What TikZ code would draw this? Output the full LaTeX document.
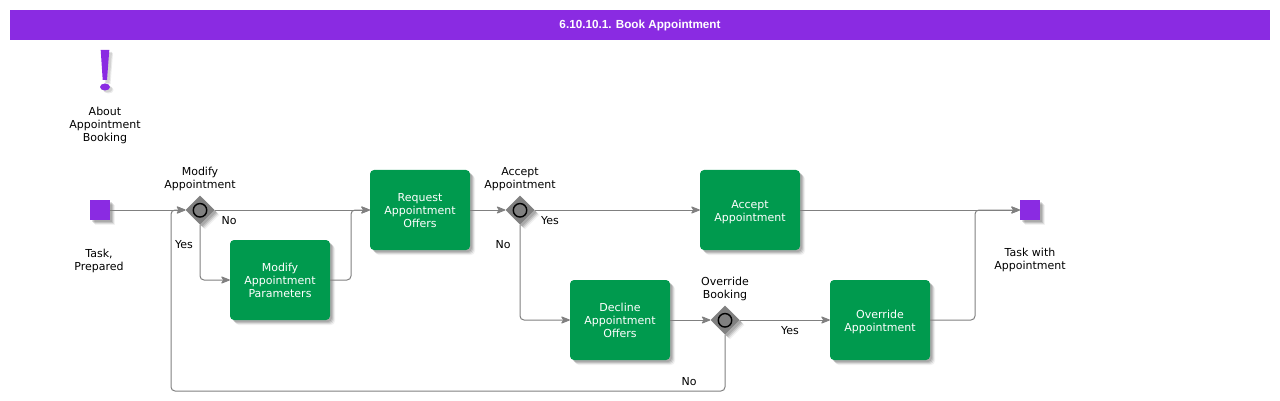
\documentclass[tikz,border=0pt]{standalone}
\usepackage{fontspec}
\setmainfont{DejaVu Sans}
\newfontfamily\titlefont{Liberation Sans}
\usetikzlibrary{shapes.geometric,arrows.meta,shadows}
\definecolor{bpurple}{HTML}{8A2BE2}
\definecolor{bgreen}{HTML}{009A4E}
\definecolor{bgray}{HTML}{808080}
\newcommand\boxtxt[1]{\raisebox{-4.75pt}[0pt][0pt]{\begin{tabular}{@{}c@{}}#1\end{tabular}}}
\tikzset{
  softshadow/.style={general shadow={shadow xshift=5pt,shadow yshift=-5pt,fill=black,opacity=.05},
                     general shadow={shadow xshift=4pt,shadow yshift=-4pt,fill=black,opacity=.09},
                     general shadow={shadow xshift=3pt,shadow yshift=-3pt,fill=black,opacity=.12},
                     general shadow={shadow xshift=2pt,shadow yshift=-2pt,fill=black,opacity=.12}},
  lbl/.style={font=\fontsize{11}{13}\selectfont,align=center,inner sep=0pt,text=black},
  taskbox/.style={softshadow,rectangle,rounded corners=4pt,fill=bgreen,minimum width=100pt,minimum height=80pt,inner sep=0pt,
     text=white,font=\fontsize{11}{13}\selectfont},
  evt/.style={softshadow,rectangle,fill=bpurple,minimum size=20pt,inner sep=0pt},
  gate/.style={softshadow,diamond,aspect=1,fill=bgray,minimum width=29pt,minimum height=29pt,inner sep=0pt},
  ring/.style={circle,draw=black,line width=1.4pt,fill=bgray,minimum size=13.5pt,inner sep=0pt},
  flow/.style={draw=bgray,line width=1pt,rounded corners=4pt},
  arrow/.style={flow,-{Stealth[length=10pt,width=8pt,inset=2.5pt,round=false]}},
}
\begin{document}
\begin{tikzpicture}[x=1pt,y=-1pt]
\useasboundingbox (0,0) rectangle (1280,401);
\node[fill=bpurple,minimum width=1260pt,minimum height=30pt,inner sep=0pt,text=white,font=\titlefont\bfseries\fontsize{11.7}{14}\selectfont] (title) at (640,25) {6.10.10.1. Book Appointment};

% annotation mark
\fill[black,opacity=.08] (104,53) -- (113,53) -- (110.5,84) -- (106,84) -- cycle;
\fill[black,opacity=.1] (103,52) -- (112,52) -- (109.5,83) -- (105,83) -- cycle;
\fill[black,opacity=.08] (108.5,90) ellipse (5pt and 3.5pt);
\fill[black,opacity=.1] (107.5,89) ellipse (5pt and 3.5pt);
\fill[bpurple] (100.7,50) -- (109.3,50) -- (107,80) -- (102.7,80) -- cycle;
\fill[bpurple] (105,87) ellipse (5pt and 3.5pt);
\node[lbl] (about) at (105,125) {About\\Appointment\\Booking};

% events
\node[evt] (start) at (100,210) {};
\node[evt] (end) at (1030,210) {};
\node[lbl] (startl) at (99,260.5) {Task,\\Prepared};
\node[lbl] (endl) at (1030,259.5) {Task with\\Appointment};

% gateways
\node[gate] (g1) at (200,210) {};
\node[ring] at (200,210.3) {};
\node[gate] (g2) at (520,210) {};
\node[ring] at (520,210.3) {};
\node[gate] (g3) at (725,320) {};
\node[ring] at (725,320.3) {};
\node[lbl] (g1l) at (200,178.5) {Modify\\Appointment};
\node[lbl] (g2l) at (520,179.5) {Accept\\Appointment};
\node[lbl] (g3l) at (725,288.5) {Override\\Booking};

% tasks
\node[taskbox] (mod) at (280,280) {\boxtxt{Modify\\Appointment\\Parameters}};
\node[taskbox] (req) at (420,210) {\boxtxt{Request\\Appointment\\Offers}};
\node[taskbox] (acc) at (750,210) {\boxtxt{Accept\\Appointment}};
\node[taskbox] (dec) at (620,320) {\boxtxt{Decline\\Appointment\\Offers}};
\node[taskbox] (ovr) at (880,320) {\boxtxt{Override\\Appointment}};

% junctions
\coordinate (j1) at (351,210);
\coordinate (j2) at (975,210);
\coordinate (j3) at (171,391);

% connectors
\draw[arrow] (start.east) -- (g1.west);
\draw[arrow] (g1.east) -- (req.west);
\draw[arrow] (g1.south) |- (mod.west);
\draw[arrow] (mod.east) -| (j1) -- (req.west);
\draw[arrow] (req.east) -- (g2.west);
\draw[arrow] (g2.east) -- (acc.west);
\draw[arrow] (g2.south) |- (dec.west);
\draw[arrow] (dec.east) -- (g3.west);
\draw[arrow] (g3.east) -- (ovr.west);
\draw[arrow] (g3.south) |- (j3) |- (g1.west);
\draw[arrow] (acc.east) -- (end.west);
\draw[arrow] (ovr.east) -| (j2) -- (end.west);

% branch labels
\node[lbl] (y1) at (184,245) {Yes};
\node[lbl] (n1) at (229,221) {No};
\node[lbl] (y2) at (550,221) {Yes};
\node[lbl] (n2) at (503,245) {No};
\node[lbl] (y3) at (790,331) {Yes};
\node[lbl] (n3) at (689,382) {No};
\end{tikzpicture}
\end{document}
